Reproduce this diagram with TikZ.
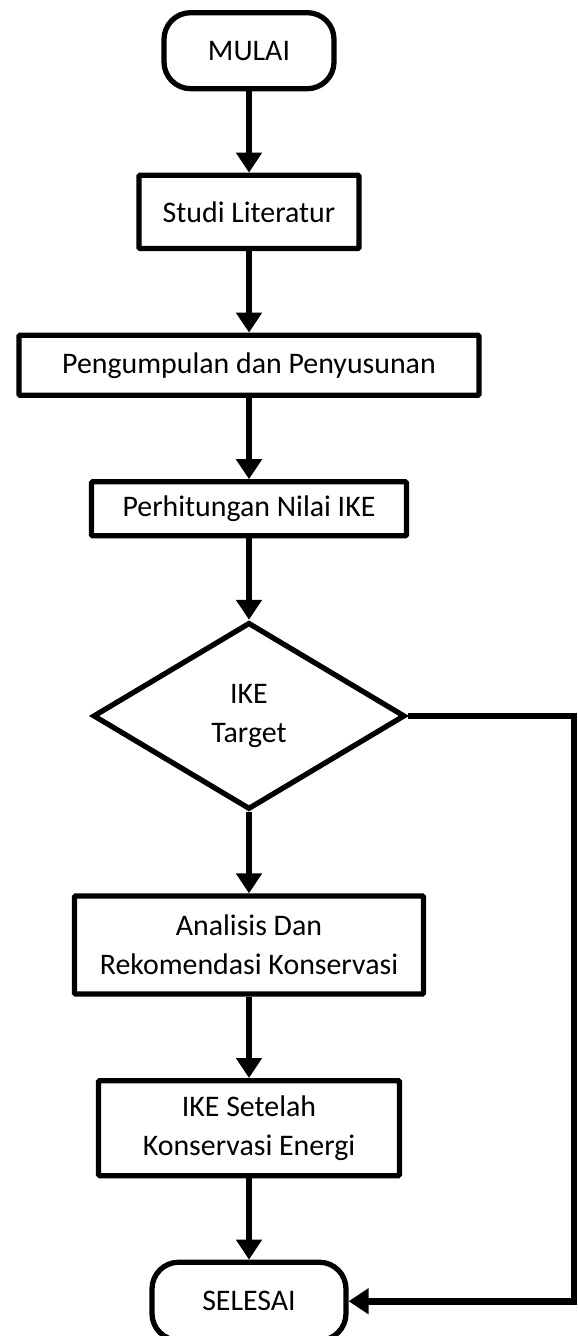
\documentclass[tikz,border=0pt]{standalone}
\usepackage{fontspec}
\setmainfont{Carlito}
\usepackage{tikz}
\usetikzlibrary{shapes.geometric, arrows.meta, positioning}

\begin{document}
\begin{tikzpicture}[
    node distance=2.44cm,
    font=\fontsize{25.5}{33}\selectfont,
    terminal/.style={rectangle, draw, line width=4.5pt, rounded corners=0.8cm, minimum width=5.1cm, minimum height=2.28cm, align=center},
    block/.style={rectangle, draw, line width=4.5pt, rounded corners=1pt, align=center},
    decision/.style={diamond, draw, line width=4.5pt, minimum width=9.36cm, minimum height=5.61cm, align=center, inner sep=0pt},
    line/.style={draw, line width=5.8pt, -{Triangle[length=0.6cm, width=0.75cm]}}
]
    \useasboundingbox (0,0) rectangle (17.31,-40.08);

    % Nodes
    \node (mulai) [terminal] at (7.47,-1.52) {MULAI};
    \node (studi) [block, minimum width=6.6cm, minimum height=2.2cm, below=of mulai] {Studi Literatur};
    \node (kumpul) [block, minimum width=13.8cm, minimum height=1.8cm, below=of studi] {Pengumpulan dan Penyusunan};
    \node (hitung) [block, minimum width=9.45cm, minimum height=1.62cm, below=of kumpul] {Perhitungan Nilai IKE};
    \node (target) [decision, below=of hitung] {IKE\\Target};
    \node (analisis) [block, minimum width=10.47cm, minimum height=2.94cm, below=of target] {Analisis Dan\\Rekomendasi Konservasi};
    \node (setelah) [block, minimum width=9.03cm, minimum height=2.85cm, below=of analisis] {IKE Setelah\\Konservasi Energi};
    \node (selesai) [terminal, minimum width=5.82cm, minimum height=2.34cm, below=of setelah] {SELESAI};
    \coordinate (kanan) at (17.22,0);

    % Connections
    \path [line] (mulai) -- (studi);
    \path [line] (studi) -- (kumpul);
    \path [line] (kumpul) -- (hitung);
    \path [line] (hitung) -- (target);
    \path [line] (target) -- (analisis);
    \path [line] (analisis) -- (setelah);
    \path [line] (setelah) -- (selesai);
    \path [line] (target.east) -- (target.east -| kanan) -- (kanan |- selesai.east) -- (selesai.east);
\end{tikzpicture}
\end{document}
